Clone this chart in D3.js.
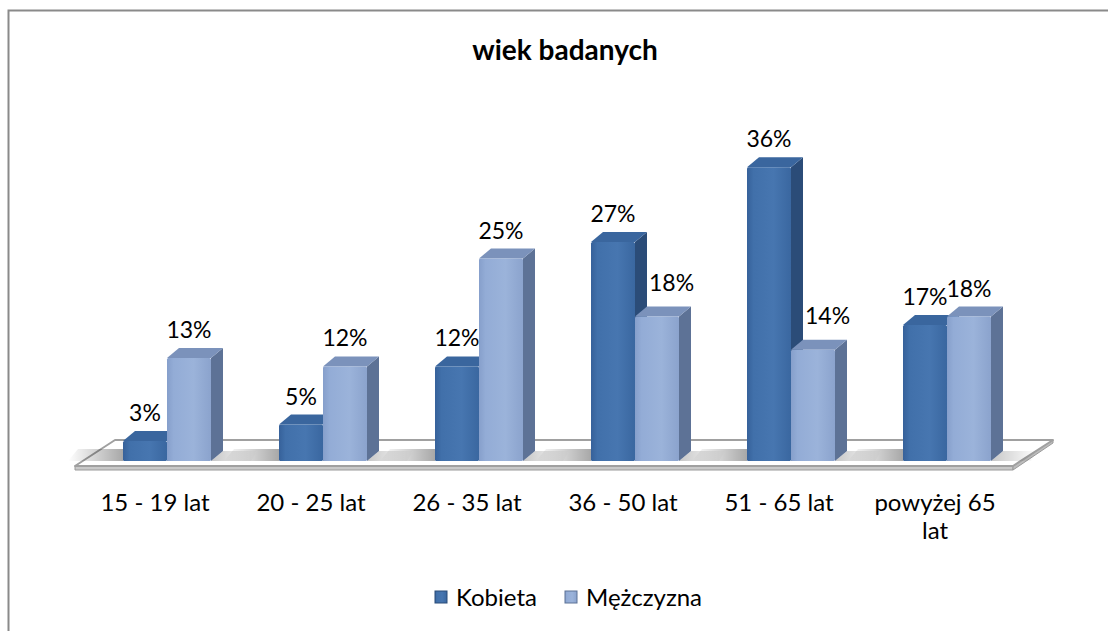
<!DOCTYPE html>
<html>
<head>
<meta charset="utf-8">
<script src="https://cdn.jsdelivr.net/npm/d3@7"></script>
<style>
  body { margin: 0; background: #fff; }
  svg { display: block; font-family: Lato, "Noto Sans", sans-serif; }
</style>
</head>
<body>
<div id="chart"></div>
<script>
// data
var categories = ["15 - 19 lat", "20 - 25 lat", "26 - 35 lat", "36 - 50 lat", "51 - 65 lat", "powyżej 65 lat"];
var seriesNames = ["Kobieta", "Mężczyzna"];
var kobieta = [3, 5, 12, 27, 36, 17];
var mezczyzna = [13, 12, 25, 18, 14, 18];
var title = "wiek badanych";

var w = 1108, h = 631;
var depthX = 12, depthY = 10;   // bar depth
var floorDX = 40, floorDY = 26; // floor depth
var barBase = 461;

var svg = d3.select("#chart").append("svg")
    .attr("width", w)
    .attr("height", h);

var defs = svg.append("defs");

function hGrad(id, stops) {
    var g = defs.append("linearGradient").attr("id", id)
        .attr("x1", "0%").attr("x2", "100%").attr("y1", "0%").attr("y2", "0%");
    stops.forEach(function (s) {
        g.append("stop").attr("offset", s[0]).attr("stop-color", s[1]).attr("stop-opacity", s[2] == null ? 1 : s[2]);
    });
}
hGrad("front0", [["0%", "#36619a"], ["15%", "#4170aa"], ["60%", "#4776b0"], ["100%", "#3a67a0"]]);
hGrad("front1", [["0%", "#869fcb"], ["15%", "#93acd6"], ["60%", "#9bb3da"], ["100%", "#8ba3cd"]]);
hGrad("shadowL", [["0%", "#000", 0], ["100%", "#000", 0.38]]);
hGrad("shadowR", [["0%", "#000", 0.22], ["100%", "#000", 0]]);

var colors = {
    side: ["#2b4c78", "#5d7296"],
    top: ["#3a669e", "#7b92bb"],
    front: ["url(#front0)", "url(#front1)"]
};

// frame
svg.append("rect")
    .attr("x", 8.5).attr("y", 10.5)
    .attr("width", w + 20).attr("height", h + 20)
    .attr("fill", "none")
    .attr("stroke", "#8a8a8a")
    .attr("stroke-width", 2);

// title
svg.append("text")
    .attr("x", 565).attr("y", 60)
    .attr("text-anchor", "middle")
    .attr("font-size", 28)
    .attr("font-weight", "bold")
    .attr("fill", "#000")
    .text(title);

// scales
var x = d3.scalePoint().domain(categories).range([167, 947]);
var xs = d3.scaleBand().domain(seriesNames).range([-44, 44]).padding(0);
var y = d3.scaleLinear().domain([0, 40]).range([466, 134]);

// floor
var fl = x(categories[0]) - 92, fr = x(categories[categories.length - 1]) + 66, fy = 466;
var floorPts = [[fl, fy], [fr, fy], [fr + floorDX, fy - floorDY], [fl + floorDX, fy - floorDY]];
svg.append("polygon")
    .attr("points", [[fl, fy], [fr, fy], [fr, fy + 4], [fl, fy + 4]].join(" "))
    .attr("fill", "#c9c9c9").attr("stroke", "#9a9a9a").attr("stroke-width", 1);
svg.append("polygon")
    .attr("points", [[fr, fy], [fr + floorDX, fy - floorDY], [fr + floorDX, fy - floorDY + 3], [fr, fy + 4]].join(" "))
    .attr("fill", "#bdbdbd").attr("stroke", "#9a9a9a").attr("stroke-width", 1);
svg.append("polygon")
    .attr("points", floorPts.join(" "))
    .attr("fill", "#fff").attr("stroke", "#a0a0a0").attr("stroke-width", 2)
    .attr("stroke-linejoin", "round");

// shadows on the floor
var shadows = svg.append("g");
categories.forEach(function (c) {
    var left = x(c) + xs.range()[0];
    var right = x(c) + xs.range()[1];
    shadows.append("polygon")
        .attr("points", [[left - 55, barBase], [left, barBase], [left + 6, barBase - 12], [left - 45, barBase - 12]].join(" "))
        .attr("fill", "url(#shadowL)");
    shadows.append("polygon")
        .attr("points", [[right, barBase], [right + 40, barBase], [right + 46, barBase - 10], [right + depthX, barBase - depthY]].join(" "))
        .attr("fill", "url(#shadowR)");
});

// bars
var rows = categories.map(function (c, i) {
    return { cat: c, vals: [kobieta[i], mezczyzna[i]] };
});

var bars = svg.append("g");
rows.forEach(function (r) {
    r.vals.forEach(function (v, si) {
        var x0 = x(r.cat) + xs(seriesNames[si]);
        var x1 = x0 + xs.bandwidth();
        var yt = y(v);
        var g = bars.append("g");
        g.append("polygon")
            .attr("points", [[x1, yt], [x1 + depthX, yt - depthY], [x1 + depthX, barBase - depthY], [x1, barBase]].join(" "))
            .attr("fill", colors.side[si]);
        g.append("polygon")
            .attr("points", [[x0, yt], [x0 + depthX, yt - depthY], [x1 + depthX, yt - depthY], [x1, yt]].join(" "))
            .attr("fill", colors.top[si]);
        g.append("rect")
            .attr("x", x0).attr("y", yt)
            .attr("width", xs.bandwidth()).attr("height", barBase - yt)
            .attr("rx", 1.5)
            .attr("fill", colors.front[si]);
    });
});

// data labels
var labels = svg.append("g")
    .attr("font-size", 23)
    .attr("fill", "#000");
rows.forEach(function (r) {
    r.vals.forEach(function (v, si) {
        var x0 = x(r.cat) + xs(seriesNames[si]);
        var cx = x0 + xs.bandwidth() / 2;
        var t = labels.append("text")
            .attr("x", cx)
            .attr("y", y(v) - depthY - 10)
            .attr("text-anchor", "middle")
            .text(v + "%");
        // push the label off a taller neighbour bar
        if (si > 0 && r.vals[si - 1] > v) {
            var tw = t.node().getComputedTextLength();
            var minLeft = x0 + depthX + 2;
            if (cx - tw / 2 < minLeft) t.attr("x", minLeft + tw / 2);
            t.attr("y", y(v) - depthY - 16);
        }
    });
});

// category labels
var catG = svg.append("g")
    .attr("font-size", 24)
    .attr("fill", "#000");
categories.forEach(function (c) {
    var t = catG.append("text")
        .attr("x", x(c) - 12)
        .attr("y", 511)
        .attr("text-anchor", "middle");
    wrapText(t, c, 140);
});

function wrapText(t, str, width) {
    var words = str.split(" "), line = [], lineNo = 0;
    var tspan = t.append("tspan").attr("x", t.attr("x")).attr("dy", 0);
    words.forEach(function (word) {
        line.push(word);
        tspan.text(line.join(" "));
        if (tspan.node().getComputedTextLength() > width && line.length > 1) {
            line.pop();
            tspan.text(line.join(" "));
            line = [word];
            lineNo++;
            tspan = t.append("tspan").attr("x", t.attr("x")).attr("dy", 28).text(word);
        }
    });
}

// legend
var legend = svg.append("g").attr("font-size", 24);
var legendX = [435, 565];
seriesNames.forEach(function (s, i) {
    var lg = legend.append("g").attr("transform", "translate(" + legendX[i] + ",591)");
    lg.append("rect")
        .attr("width", 12).attr("height", 12)
        .attr("fill", colors.front[i])
        .attr("stroke", colors.side[i]).attr("stroke-width", 1);
    lg.append("text")
        .attr("x", 21).attr("y", 15)
        .text(s);
});
</script>
</body>
</html>
